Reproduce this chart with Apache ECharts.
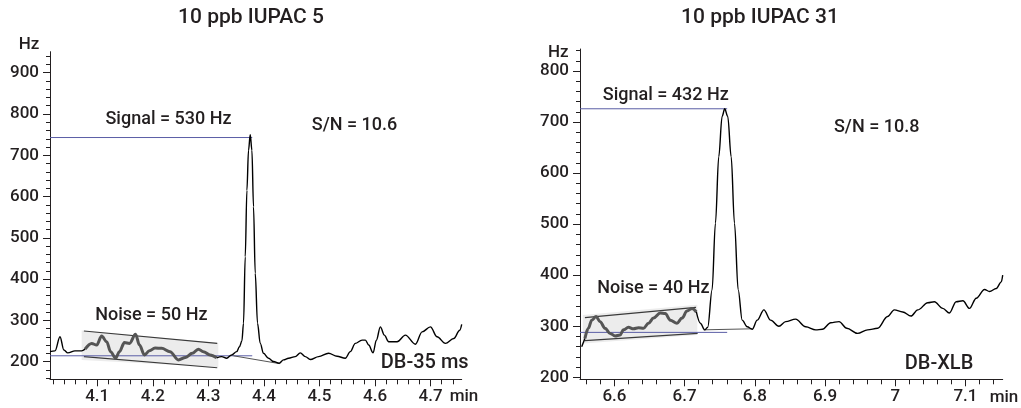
<!DOCTYPE html>
<html>
<head>
<meta charset="utf-8">
<script src="https://cdn.jsdelivr.net/npm/echarts@6/dist/echarts.min.js"></script>
<style>
html,body{margin:0;padding:0;background:#fff;}
#chart{width:1021px;height:408px;}
</style>
</head>
<body>
<div id="chart"></div>
<script>
// ---------- DATA ----------
const titles = ['10 ppb IUPAC 5', '10 ppb IUPAC 31'];
const columns = ['DB-35 ms', 'DB-XLB'];

// Left chromatogram (min, Hz)
const leftTraceA = [[4.015,224],[4.024,226],[4.033,260],[4.040,228],[4.047,221],[4.060,226],[4.072,226],[4.078,230]];
const leftNoise = [[4.078,230],[4.090,244],[4.099,240],[4.108,262],[4.117,248],[4.124,224],[4.133,208],[4.140,224],[4.149,246],[4.158,244],[4.169,266],[4.176,240],[4.185,216],[4.194,226],[4.204,233],[4.216,232],[4.231,224],[4.246,204],[4.259,210],[4.271,220],[4.282,230],[4.291,224],[4.303,216],[4.315,209]];
const leftTraceB = [[4.315,209],[4.324,212],[4.333,208],[4.342,216],[4.351,224],[4.356,236],[4.3604,250],[4.3633,293],[4.3664,454],[4.3694,615],[4.3723,712],[4.3754,750],[4.3784,712],[4.3813,575],[4.3844,414],[4.3885,293],[4.3934,244],[4.3993,220],[4.4083,208],[4.4173,200],[4.4276,196],[4.4353,204],[4.4444,208],[4.4565,212],[4.4655,221],[4.4745,212],[4.4835,205],[4.4984,212],[4.5164,220],[4.5316,213],[4.5465,208],[4.5555,224],[4.5645,244],[4.5766,252],[4.5826,252],[4.5886,240],[4.5965,221],[4.6024,252],[4.6096,284],[4.6168,264],[4.6246,248],[4.6397,248],[4.6546,264],[4.6727,242],[4.6847,272],[4.6997,284],[4.7117,260],[4.7267,244],[4.7417,256],[4.7525,276],[4.756,290]];
const leftBandUpper = [[4.076,274],[4.316,244]];
const leftBandLower = [[4.076,212],[4.316,185]];
const leftBandFill = [[4.072,275],[4.318,245],[4.318,186],[4.072,204]];
const leftSignalLine = [[4.015,743],[4.379,743]];
const leftBaseLine = [[4.015,214],[4.379,214]];
const leftPeakBase = [[4.345,214],[4.428,195]];

// Right chromatogram (min, Hz)
const rightTraceA = [[6.5534,260],[6.558,276]];
const rightNoise = [[6.558,276],[6.5629,296],[6.5677,312],[6.5739,319],[6.5796,309],[6.5867,296],[6.5939,286],[6.601,281],[6.6081,283],[6.6129,293],[6.62,298],[6.6271,295],[6.6343,297],[6.6414,296],[6.6486,306],[6.6557,316],[6.6653,326],[6.6724,325],[6.6796,312],[6.6891,306],[6.6963,316],[6.7034,330],[6.7106,335],[6.7167,328]];
const rightTraceB = [[6.7167,328],[6.7224,306],[6.7286,293],[6.7329,298],[6.7391,371],[6.7439,502],[6.7486,632],[6.7534,711],[6.7571,726],[6.7614,711],[6.7663,632],[6.771,502],[6.7763,371],[6.782,312],[6.7891,299],[6.7963,294],[6.8034,312],[6.8129,332],[6.8224,312],[6.8343,300],[6.8439,309],[6.8581,314],[6.8724,299],[6.8867,293],[6.8962,294],[6.9081,307],[6.92,309],[6.931,296],[6.9463,286],[6.9606,293],[6.9749,296],[6.9891,319],[6.9986,332],[7.0106,328],[7.0224,320],[7.032,332],[7.0463,346],[7.0557,348],[7.0677,335],[7.0771,326],[7.0867,348],[7.0963,350],[7.1057,335],[7.1153,355],[7.1271,372],[7.1343,368],[7.1439,374],[7.151,387],[7.153,400]];
const rightBandUpper = [[6.558,317],[6.7162,337]];
const rightBandLower = [[6.558,272],[6.7186,286]];
const rightBandFill = [[6.555,322],[6.718,342],[6.718,283],[6.555,266]];
const rightSignalLine = [[6.551,726],[6.7606,726]];
const rightBaseLine = [[6.551,288],[6.7606,288]];
const rightPeakBase = [[6.727,293],[6.796,295]];

// Ticks
const leftXMajor = [4.1,4.2,4.3,4.4,4.5,4.6,4.7];
const leftXMinor = [4.02,4.04,4.06,4.08,4.12,4.14,4.16,4.18,4.22,4.24,4.26,4.28,4.32,4.34,4.36,4.38,4.42,4.44,4.46,4.48,4.52,4.54,4.56,4.58,4.62,4.64,4.66,4.68,4.72,4.74];
const leftYMajor = [200,300,400,500,600,700,800,900];
const leftYMinor = [160,180,220,240,260,280,320,340,360,380,420,440,460,480,520,540,560,580,620,640,660,680,720,740,760,780,820,840,860,880,920,940];
const rightXMajor = [6.6,6.7,6.8,6.9,7.0,7.1];
const rightXMinor = [6.56,6.58,6.62,6.64,6.66,6.68,6.72,6.74,6.76,6.78,6.82,6.84,6.86,6.88,6.92,6.94,6.96,6.98,7.02,7.04,7.06,7.08,7.12,7.14];
const rightYMajor = [200,300,400,500,600,700,800];
const rightYMinor = [220,240,260,280,320,340,360,380,420,440,460,480,520,540,560,580,620,640,660,680,720,740,760,780,820,840];

const annotations = [
  {t:'Signal = 530 Hz', x:168.5, y:119.7, s:18},
  {t:'Noise = 50 Hz', x:151.3, y:315, s:18},
  {t:'S/N = 10.6', x:354.5, y:125, s:18},
  {t:'Signal = 432 Hz', x:665.8, y:95, s:18},
  {t:'Noise = 40 Hz', x:653.3, y:288.3, s:18},
  {t:'S/N = 10.8', x:876.7, y:127, s:18}
];

// ---------- CHART ----------
const FONT = 'Roboto';
const FW = 500;
const TXT = '#231f20';
const AX = '#231f20';
const BLUE = '#5b5ea6';

const chart = echarts.init(document.getElementById('chart'), null, {renderer:'canvas'});
const fmt = v => String(Math.round(v*100)/100);

function xAxes(grid, min, max, major, minor){
  return [
    {type:'value', gridIndex:grid, position:'bottom', min, max, axisLine:{show:true, onZero:false, lineStyle:{color:AX, width:1}},
     splitLine:{show:false},
     axisTick:{show:true, length:7, customValues:major, lineStyle:{color:AX, width:1}},
     axisLabel:{show:true, customValues:major, formatter:fmt, margin:9, fontFamily:FONT, fontWeight:FW, fontSize:17, color:TXT}},
    {type:'value', gridIndex:grid, position:'bottom', min, max, axisLine:{show:false, onZero:false}, splitLine:{show:false},
     axisTick:{show:true, length:5, customValues:minor, lineStyle:{color:AX, width:1}},
     axisLabel:{show:false}}
  ];
}
function yAxes(grid, min, max, major, minor){
  return [
    {type:'value', gridIndex:grid, position:'left', min, max, axisLine:{show:true, onZero:false, lineStyle:{color:AX, width:1}},
     splitLine:{show:false},
     axisTick:{show:true, length:7, customValues:major, lineStyle:{color:AX, width:1}},
     axisLabel:{show:true, customValues:major, margin:11, fontFamily:FONT, fontWeight:FW, fontSize:17, color:TXT}},
    {type:'value', gridIndex:grid, position:'left', min, max, axisLine:{show:false, onZero:false}, splitLine:{show:false},
     axisTick:{show:true, length:4, customValues:minor, lineStyle:{color:AX, width:1}},
     axisLabel:{show:false}}
  ];
}

function lineS(xi, data, color, width, z){
  return {type:'line', xAxisIndex:xi, yAxisIndex:xi, data, showSymbol:false, symbol:'none',
    lineStyle:{color, width}, z, silent:true, animation:false};
}
function smoothS(xi, data, color, width, z){
  const s = lineS(xi, data, color, width, z);
  s.smooth = 0.35; s.smoothMonotone = 'x';
  return s;
}
function polyS(xi, pts){
  return {type:'custom', xAxisIndex:xi, yAxisIndex:xi, data:[0], z:1, silent:true, clip:true,
    renderItem:(params, api) => ({type:'polygon', shape:{points: pts.map(p => api.coord(p))},
      style:{fill:'#ececec', stroke:'none'}})};
}

const graphics = [];
function txt(t, x, y, s){
  graphics.push({type:'text', x, y, style:{text:t, font:`${FW} ${s}px ${FONT}`, fill:TXT, align:'center', verticalAlign:'middle'}});
}
annotations.forEach(a => txt(a.t, a.x, a.y, a.s));
txt(columns[0], 424.7, 363, 20);
txt(columns[1], 939, 364, 20);
txt('Hz', 29, 45, 17);
txt('Hz', 558.3, 52.5, 17);
txt('min', 464, 397, 17);
txt('min', 1004, 398, 17);
txt(titles[0], 251, 18, 21);
txt(titles[1], 760, 18, 21);

const option = {
  animation:false,
  backgroundColor:'#ffffff',
  grid:[
    {left:50, top:51.7, width:411.7, height:327.6},
    {left:580, top:49, width:422.7, height:330.3}
  ],
  xAxis:[...xAxes(0, 4.015, 4.756, leftXMajor, leftXMinor), ...xAxes(1, 6.551, 7.153, rightXMajor, rightXMinor)],
  yAxis:[...yAxes(0, 157, 951, leftYMajor, leftYMinor), ...yAxes(1, 196.1, 843.1, rightYMajor, rightYMinor)],
  series:[
    polyS(0, leftBandFill),
    lineS(0, leftBandUpper, '#3a3a3a', 1.2, 3),
    lineS(0, leftBandLower, '#3a3a3a', 1.2, 3),
    lineS(0, leftSignalLine, BLUE, 1, 4),
    lineS(0, leftBaseLine, BLUE, 1, 4),
    lineS(0, leftPeakBase, '#555', 1, 4),
    smoothS(0, leftTraceA, '#000', 1.4, 6),
    smoothS(0, leftNoise, '#555', 3, 5),
    smoothS(0, leftTraceB, '#000', 1.4, 6),

    polyS(2, rightBandFill),
    lineS(2, rightBandUpper, '#3a3a3a', 1.2, 3),
    lineS(2, rightBandLower, '#3a3a3a', 1.2, 3),
    lineS(2, rightSignalLine, BLUE, 1, 4),
    lineS(2, rightBaseLine, BLUE, 1, 4),
    lineS(2, rightPeakBase, '#555', 1, 4),
    smoothS(2, rightTraceA, '#000', 1.4, 6),
    smoothS(2, rightNoise, '#555', 3, 5),
    smoothS(2, rightTraceB, '#000', 1.4, 6)
  ],
  graphic:graphics
};
chart.setOption(option);
</script>
</body>
</html>
